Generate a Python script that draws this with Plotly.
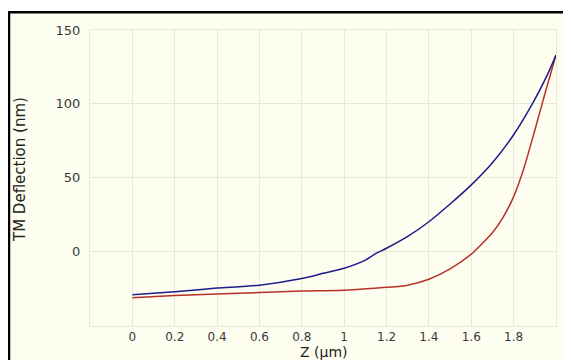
import plotly.graph_objects as go

# Data
blue_z = [0.0, 0.2, 0.4, 0.6, 0.8, 0.9, 1.0, 1.1, 1.15, 1.2, 1.3, 1.4, 1.5, 1.6, 1.7, 1.8, 1.9, 1.97, 2.0]
blue_d = [-29.5, -27.5, -25, -23, -18.5, -15, -11.5, -6, -1.5, 2, 10, 20, 32, 45, 60, 79, 103, 123, 133]

red_z = [0.0, 0.2, 0.4, 0.6, 0.8, 1.0, 1.2, 1.3, 1.4, 1.5, 1.6, 1.65, 1.7, 1.75, 1.8, 1.85, 1.9, 1.95, 2.0]
red_d = [-31.5, -30, -29, -28, -27, -26.5, -24.5, -23, -19, -12, -2, 5, 12.5, 23, 37, 57, 82, 108, 133]

x_ticks = [0, 0.2, 0.4, 0.6, 0.8, 1, 1.2, 1.4, 1.6, 1.8]
x_labels = ["0", "0.2", "0.4", "0.6", "0.8", "1", "1.2", "1.4", "1.6", "1.8"]
y_ticks = [0, 50, 100, 150]
y_labels = ["0", "50", "100", "150"]

OFF = 8  # page body margin
W, H = 571 - OFF, 360 - OFF
L, R, T, B = 90 - OFF, 15, 30 - OFF, 34
PW, PH = W - L - R, H - T - B

def px(x):
    # page x pixel -> paper coordinate
    return (x - OFF - L) / PW

def py(y):
    # page y pixel -> paper coordinate
    return (H - B - (y - OFF)) / PH

BG = "#fefef0"
GRID = "#e8e8d8"
FONT = "DejaVu Sans, Verdana, sans-serif"

fig = go.Figure()
fig.add_trace(go.Scatter(x=red_z, y=red_d, mode="lines", line=dict(color="#b8302a", width=1.5, shape="spline", smoothing=0.6), showlegend=False))
fig.add_trace(go.Scatter(x=blue_z, y=blue_d, mode="lines", line=dict(color="#1c1c8a", width=1.5, shape="spline", smoothing=0.6), showlegend=False))

shapes = [
    dict(type="rect", xref="paper", yref="paper", x0=px(0), x1=px(W + OFF + 2), y0=py(11), y1=py(0), fillcolor="white", line=dict(width=0), layer="below"),
    dict(type="line", xref="paper", yref="paper", x0=px(7), x1=px(W + OFF + 2), y0=py(12.2), y1=py(12.2), line=dict(color="black", width=2.5)),
    dict(type="line", xref="paper", yref="paper", x0=px(9), x1=px(9), y0=py(11), y1=py(H + OFF + 2), line=dict(color="black", width=2.5)),
]

annotations = [
    dict(text="TM Deflection (nm)", xref="paper", yref="paper", x=px(20), y=py(170), textangle=-90,
         showarrow=False, xanchor="center", yanchor="middle", font=dict(family=FONT, size=15, color="#222222")),
    dict(text="Z (µm)", xref="paper", yref="paper", x=px(324), y=py(352),
         showarrow=False, xanchor="center", yanchor="middle", font=dict(family=FONT, size=14, color="#222222")),
]

fig.update_layout(
    width=W, height=H,
    margin=dict(l=L, r=R, t=T, b=B, autoexpand=False),
    paper_bgcolor=BG, plot_bgcolor=BG,
    font=dict(family=FONT, size=13, color="#3a3a3a"),
    shapes=shapes,
    annotations=annotations,
    xaxis=dict(range=[-0.2, 2.0], tickvals=x_ticks, ticktext=x_labels, showgrid=True, gridcolor=GRID, gridwidth=1,
               showline=True, mirror=True, linecolor=GRID, linewidth=1, zeroline=False, ticks="",
               tickfont=dict(size=12), automargin=False, fixedrange=True),
    yaxis=dict(range=[-50.7, 150], tickvals=y_ticks, ticktext=y_labels, showgrid=True, gridcolor=GRID, gridwidth=1,
               showline=True, mirror=True, linecolor=GRID, linewidth=1, zeroline=False, ticks="",
               tickfont=dict(size=13), ticklabelstandoff=6, automargin=False, fixedrange=True),
)

fig.write_html("out.html")
